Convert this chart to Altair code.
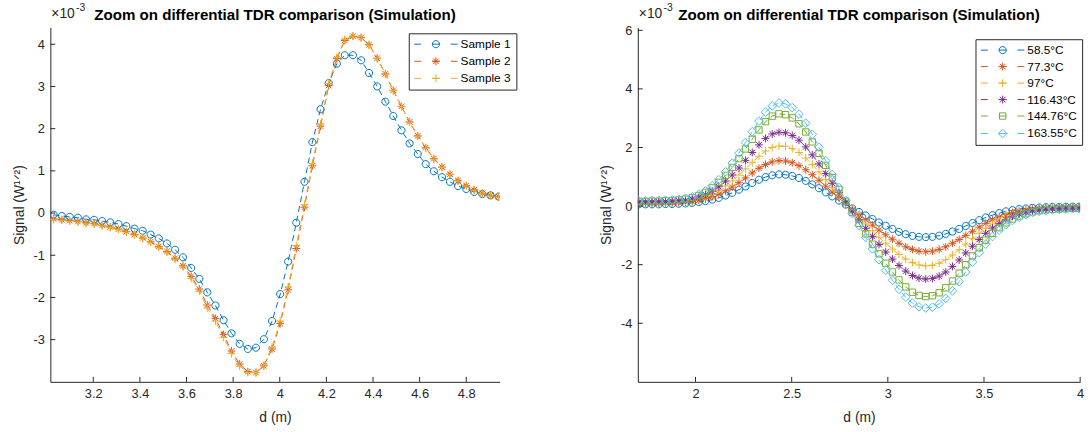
import altair as alt
import pandas as pd

# ---------------- data: left panel ----------------
LEFT_X = [3.030, 3.065, 3.099, 3.134, 3.169, 3.204, 3.238, 3.273, 3.308, 3.342,
          3.377, 3.412, 3.446, 3.481, 3.516, 3.551, 3.585, 3.620, 3.655, 3.689,
          3.724, 3.759, 3.793, 3.828, 3.863, 3.898, 3.932, 3.967, 4.002, 4.036,
          4.071, 4.106, 4.140, 4.175, 4.210, 4.245, 4.279, 4.314, 4.349, 4.383,
          4.418, 4.453, 4.487, 4.522, 4.557, 4.592, 4.626, 4.661, 4.696, 4.730,
          4.765, 4.800, 4.834, 4.869, 4.904, 4.939]
SAMPLE_1 = [-0.04, -0.07, -0.09, -0.11, -0.15, -0.16, -0.19, -0.22, -0.26, -0.31,
            -0.37, -0.42, -0.51, -0.60, -0.72, -0.87, -1.05, -1.30, -1.56, -1.88,
            -2.19, -2.54, -2.85, -3.10, -3.22, -3.19, -2.99, -2.56, -1.92, -1.15,
            -0.23, 0.74, 1.68, 2.46, 3.08, 3.54, 3.74, 3.74, 3.62, 3.32,
            3.00, 2.64, 2.30, 1.96, 1.65, 1.40, 1.16, 0.99, 0.85, 0.74,
            0.64, 0.57, 0.50, 0.45, 0.42, 0.39]
SAMPLE_2 = [-0.14, -0.16, -0.18, -0.20, -0.23, -0.25, -0.29, -0.33, -0.38, -0.44,
            -0.51, -0.59, -0.68, -0.79, -0.91, -1.07, -1.25, -1.50, -1.80, -2.18,
            -2.50, -2.88, -3.27, -3.58, -3.76, -3.78, -3.62, -3.22, -2.62, -1.82,
            -0.84, 0.14, 1.12, 2.06, 3.02, 3.66, 4.09, 4.19, 4.16, 3.99,
            3.67, 3.30, 2.91, 2.53, 2.16, 1.83, 1.55, 1.29, 1.09, 0.92,
            0.77, 0.65, 0.55, 0.47, 0.42, 0.39]
SAMPLE_3 = [-0.15, -0.17, -0.19, -0.21, -0.24, -0.26, -0.30, -0.34, -0.39, -0.45,
            -0.52, -0.60, -0.69, -0.81, -0.93, -1.10, -1.28, -1.55, -1.85, -2.25,
            -2.56, -2.95, -3.33, -3.63, -3.78, -3.78, -3.60, -3.18, -2.56, -1.75,
            -0.77, 0.20, 1.18, 2.11, 3.07, 3.69, 4.11, 4.19, 4.15, 3.98,
            3.66, 3.29, 2.90, 2.52, 2.15, 1.82, 1.54, 1.28, 1.08, 0.91,
            0.76, 0.64, 0.54, 0.46, 0.41, 0.38]
LEFT_NAMES = ["Sample 1", "Sample 2", "Sample 3"]

# ---------------- data: right panel ----------------
RIGHT_X = [1.705, 1.740, 1.774, 1.809, 1.844, 1.879, 1.913, 1.948, 1.983, 2.017,
           2.052, 2.087, 2.121, 2.156, 2.191, 2.226, 2.260, 2.295, 2.330, 2.364,
           2.399, 2.434, 2.468, 2.503, 2.538, 2.573, 2.607, 2.642, 2.677, 2.711,
           2.746, 2.781, 2.815, 2.850, 2.885, 2.920, 2.954, 2.989, 3.024, 3.058,
           3.093, 3.128, 3.162, 3.197, 3.232, 3.267, 3.301, 3.336, 3.371, 3.405,
           3.440, 3.475, 3.509, 3.544, 3.579, 3.614, 3.648, 3.683, 3.718, 3.752,
           3.787, 3.822, 3.856, 3.891, 3.926, 3.961, 3.995]
T_58_5 = [0.06, 0.06, 0.06, 0.06, 0.07, 0.07, 0.08, 0.09, 0.11, 0.14,
          0.17, 0.22, 0.28, 0.36, 0.45, 0.56, 0.67, 0.79, 0.90, 0.99,
          1.05, 1.08, 1.07, 1.03, 0.96, 0.86, 0.74, 0.61, 0.47, 0.33,
          0.19, 0.05, -0.08, -0.20, -0.32, -0.44, -0.56, -0.67, -0.78, -0.88,
          -0.96, -1.02, -1.05, -1.06, -1.05, -1.01, -0.95, -0.87, -0.78, -0.68,
          -0.58, -0.48, -0.39, -0.31, -0.24, -0.18, -0.14, -0.10, -0.08, -0.06,
          -0.05, -0.04, -0.03, -0.03, -0.02, -0.02, -0.02]
T_77_3 = [0.10, 0.10, 0.10, 0.10, 0.11, 0.11, 0.12, 0.14, 0.16, 0.20,
          0.25, 0.32, 0.41, 0.52, 0.65, 0.80, 0.96, 1.13, 1.29, 1.42,
          1.51, 1.55, 1.54, 1.48, 1.38, 1.24, 1.07, 0.88, 0.68, 0.48,
          0.28, 0.08, -0.11, -0.29, -0.47, -0.65, -0.82, -0.98, -1.13, -1.27,
          -1.39, -1.48, -1.54, -1.56, -1.54, -1.48, -1.39, -1.27, -1.14, -1.00,
          -0.86, -0.72, -0.59, -0.47, -0.37, -0.29, -0.22, -0.17, -0.13, -0.10,
          -0.08, -0.07, -0.06, -0.05, -0.05, -0.04, -0.04]
T_97 = [0.12, 0.12, 0.12, 0.13, 0.13, 0.14, 0.15, 0.17, 0.20, 0.25,
        0.32, 0.42, 0.54, 0.69, 0.86, 1.06, 1.27, 1.49, 1.70, 1.88,
        2.00, 2.05, 2.04, 1.96, 1.83, 1.64, 1.42, 1.17, 0.90, 0.63,
        0.37, 0.11, -0.14, -0.38, -0.61, -0.84, -1.06, -1.27, -1.47, -1.65,
        -1.81, -1.93, -2.01, -2.04, -2.02, -1.95, -1.83, -1.67, -1.49, -1.30,
        -1.11, -0.93, -0.76, -0.61, -0.48, -0.37, -0.28, -0.21, -0.16, -0.12,
        -0.10, -0.08, -0.07, -0.06, -0.06, -0.05, -0.05]
T_116_43 = [0.14, 0.14, 0.14, 0.15, 0.15, 0.16, 0.18, 0.20, 0.24, 0.30,
            0.39, 0.51, 0.66, 0.85, 1.06, 1.30, 1.56, 1.83, 2.09, 2.31,
            2.46, 2.52, 2.50, 2.41, 2.25, 2.02, 1.75, 1.44, 1.11, 0.78,
            0.46, 0.14, -0.17, -0.47, -0.76, -1.04, -1.31, -1.57, -1.81, -2.03,
            -2.22, -2.37, -2.46, -2.49, -2.47, -2.39, -2.25, -2.06, -1.84, -1.60,
            -1.37, -1.14, -0.93, -0.75, -0.59, -0.46, -0.35, -0.27, -0.21, -0.16,
            -0.13, -0.11, -0.09, -0.08, -0.07, -0.07, -0.06]
T_144_76 = [0.16, 0.16, 0.17, 0.17, 0.18, 0.19, 0.21, 0.24, 0.29, 0.36,
            0.47, 0.62, 0.81, 1.05, 1.32, 1.62, 1.95, 2.28, 2.60, 2.88,
            3.07, 3.15, 3.12, 3.01, 2.81, 2.53, 2.19, 1.80, 1.39, 0.97,
            0.57, 0.17, -0.22, -0.59, -0.95, -1.30, -1.63, -1.95, -2.25, -2.52,
            -2.76, -2.94, -3.05, -3.09, -3.06, -2.96, -2.79, -2.56, -2.29, -2.00,
            -1.70, -1.42, -1.16, -0.93, -0.74, -0.57, -0.44, -0.34, -0.26, -0.20,
            -0.16, -0.13, -0.11, -0.10, -0.09, -0.08, -0.08]
T_163_55 = [0.18, 0.18, 0.19, 0.19, 0.20, 0.21, 0.23, 0.27, 0.32, 0.40,
            0.52, 0.69, 0.90, 1.17, 1.47, 1.81, 2.17, 2.54, 2.90, 3.21,
            3.42, 3.52, 3.49, 3.36, 3.14, 2.83, 2.45, 2.01, 1.55, 1.08,
            0.63, 0.19, -0.25, -0.66, -1.07, -1.46, -1.83, -2.19, -2.53, -2.84,
            -3.11, -3.31, -3.44, -3.48, -3.45, -3.34, -3.15, -2.89, -2.58, -2.25,
            -1.91, -1.59, -1.30, -1.04, -0.82, -0.64, -0.49, -0.38, -0.29, -0.22,
            -0.18, -0.15, -0.13, -0.11, -0.10, -0.09, -0.09]
RIGHT_NAMES = ["58.5°C", "77.3°C", "97°C", "116.43°C", "144.76°C", "163.55°C"]

LEFT_XTICKS = [3.2, 3.4, 3.6, 3.8, 4, 4.2, 4.4, 4.6, 4.8]
LEFT_YTICKS = [-3, -2, -1, 0, 1, 2, 3, 4]
RIGHT_XTICKS = [2, 2.5, 3, 3.5, 4]
RIGHT_YTICKS = [-4, -2, 0, 2, 4, 6]

TITLE = "Zoom on differential TDR comparison (Simulation)"
X_TITLE = "d (m)"
Y_TITLE = "Signal (W\u00b9\u141f\u00b2)"
EXP_BASE = "\u00d710"
EXP_POW = "-3"

# ---------------- styles ----------------
COLORS = ["#0072BD", "#D95319", "#EDB120", "#7E2F8E", "#77AC30", "#4DBEEE"]
AX = "#262626"
FONT = "Liberation Sans"


def circ(r):
    return f"M{r},0A{r},{r} 0 1,1 {-r},0A{r},{r} 0 1,1 {r},0Z"


def plus(a):
    return f"M{-a},0H{a}M0,{-a}V{a}"


def aster(a):
    d = round(a * 0.7, 3)
    return f"M{-a},0H{a}M0,{-a}V{a}M{-d},{-d}L{d},{d}M{-d},{d}L{d},{-d}"


def square(a):
    return f"M{-a},{-a}H{a}V{a}H{-a}Z"


def diamond(a):
    return f"M0,{-a}L{a},0L0,{a}L{-a},0Z"


# data markers (size 64 -> unit 4px)
MK = {"o": circ(0.9), "*": aster(1.0), "+": plus(1.0), "s": square(0.8), "d": diamond(1.1)}
# legend symbols (size 100 -> unit 5px): dashed line + marker
LINE = "M-4.4,0H-3.0M-0.8,0H0.8M3.0,0H4.4"
LG = {"o": LINE + circ(0.72), "*": LINE + aster(0.8), "+": LINE + plus(0.8),
      "s": LINE + square(0.64), "d": LINE + diamond(0.88)}


def make_df(xs, names, series):
    rows = []
    for name, ys in zip(names, series):
        for x, y in zip(xs, ys):
            rows.append({"d": x, "v": y, "series": name})
    return pd.DataFrame(rows)


def panel(df, names, colors, markers, xdom, ydom, w, h, xticks, yticks, lx, ly, rowpad):
    xs = alt.Scale(domain=xdom, nice=False, zero=False)
    ys = alt.Scale(domain=ydom, nice=False, zero=False)
    xax = alt.Axis(values=xticks, title=X_TITLE, labelExpr="'' + datum.value",
                   labelPadding=6, titlePadding=10, ticks=False, grid=False,
                   labelFlush=False, titleFontWeight="normal")
    yax = alt.Axis(values=yticks, title=Y_TITLE, labelExpr="'' + datum.value",
                   labelPadding=6, titlePadding=7, ticks=False, grid=False,
                   labelFlush=False, titleFontWeight="normal")
    X = alt.X("d:Q", scale=xs, axis=xax)
    Y = alt.Y("v:Q", scale=ys, axis=yax)

    layers = []
    for name, col in zip(names, colors):
        layers.append(
            alt.Chart(df).transform_filter(alt.datum.series == name).mark_line(
                strokeDash=[6, 4], strokeWidth=1, color=col, clip=True
            ).encode(x=X, y=Y, order="d:Q"))
    for name, col, m in zip(names, colors, markers):
        layers.append(
            alt.Chart(df).transform_filter(alt.datum.series == name).mark_point(
                shape=MK[m], filled=False, strokeWidth=1, size=64, opacity=1, color=col, clip=True
            ).encode(x=X, y=Y))
    leg = alt.Legend(orient="none", legendX=lx, legendY=ly, title=None, direction="vertical",
                     symbolSize=100, symbolStrokeWidth=1, symbolOffset=16.5, labelOffset=19,
                     labelFont=FONT, labelFontSize=12, labelColor="#000000",
                     fillColor="#ffffff", strokeColor=AX, padding=5, rowPadding=rowpad,
                     symbolOpacity=1)
    layers.append(alt.Chart(df).mark_point(filled=False, opacity=0).encode(
        x=X, y=Y,
        color=alt.Color("series:N", scale=alt.Scale(domain=names, range=colors), legend=leg),
        shape=alt.Shape("series:N", scale=alt.Scale(domain=names, range=[LG[m] for m in markers]),
                        legend=leg)))
    layers.append(alt.Chart(pd.DataFrame({"d": xticks})).mark_rule(color=AX, strokeWidth=1).encode(
        x=X, y=alt.value(h), y2=alt.value(h - 5)))
    layers.append(alt.Chart(pd.DataFrame({"v": yticks})).mark_rule(color=AX, strokeWidth=1).encode(
        y=Y, x=alt.value(0), x2=alt.value(5)))
    tdf = pd.DataFrame({"base": [EXP_BASE], "pow": [EXP_POW], "title": [TITLE]})
    layers.append(alt.Chart(tdf).mark_text(align="left", baseline="alphabetic", font=FONT,
                                           fontSize=14, color=AX).encode(
        text="base:N", x=alt.value(1), y=alt.value(-10)))
    layers.append(alt.Chart(tdf).mark_text(align="left", baseline="alphabetic", font=FONT,
                                           fontSize=10.5, color=AX).encode(
        text="pow:N", x=alt.value(26), y=alt.value(-17)))
    layers.append(alt.Chart(tdf).mark_text(align="center", baseline="alphabetic", font=FONT,
                                           fontSize=15.3, fontWeight="bold", color="#000000").encode(
        text="title:N", x=alt.value(w / 2), y=alt.value(-7)))
    return alt.layer(*layers).properties(width=w, height=h)


left_df = make_df(LEFT_X, LEFT_NAMES, [SAMPLE_1, SAMPLE_2, SAMPLE_3])
right_df = make_df(RIGHT_X, RIGHT_NAMES, [T_58_5, T_77_3, T_97, T_116_43, T_144_76, T_163_55])

left = panel(left_df, LEFT_NAMES, COLORS[:3], ["o", "*", "+"], [3.016, 4.943], [-4.0, 4.4],
             455, 359, LEFT_XTICKS, LEFT_YTICKS, 363, 6, 5.3)
right = panel(right_df, RIGHT_NAMES, COLORS, ["o", "*", "+", "*", "s", "d"], [1.7, 4.0], [-6.0, 6.1],
              448, 359, RIGHT_XTICKS, RIGHT_YTICKS, 342, 12, 4.7)

chart = alt.hconcat(left, right, spacing=83).resolve_scale(
    color="independent", shape="independent"
).resolve_legend(color="independent", shape="independent").properties(
    padding={"left": 12, "top": 0, "right": 0, "bottom": 0}, background="#ffffff"
).configure_view(stroke=None).configure_axis(
    domainColor=AX, domainWidth=1, labelColor=AX, labelFont=FONT, labelFontSize=13,
    titleColor=AX, titleFont=FONT, titleFontSize=14, titleFontWeight="normal"
)

chart.save("out.html", embed_options={"renderer": "svg", "actions": False})
